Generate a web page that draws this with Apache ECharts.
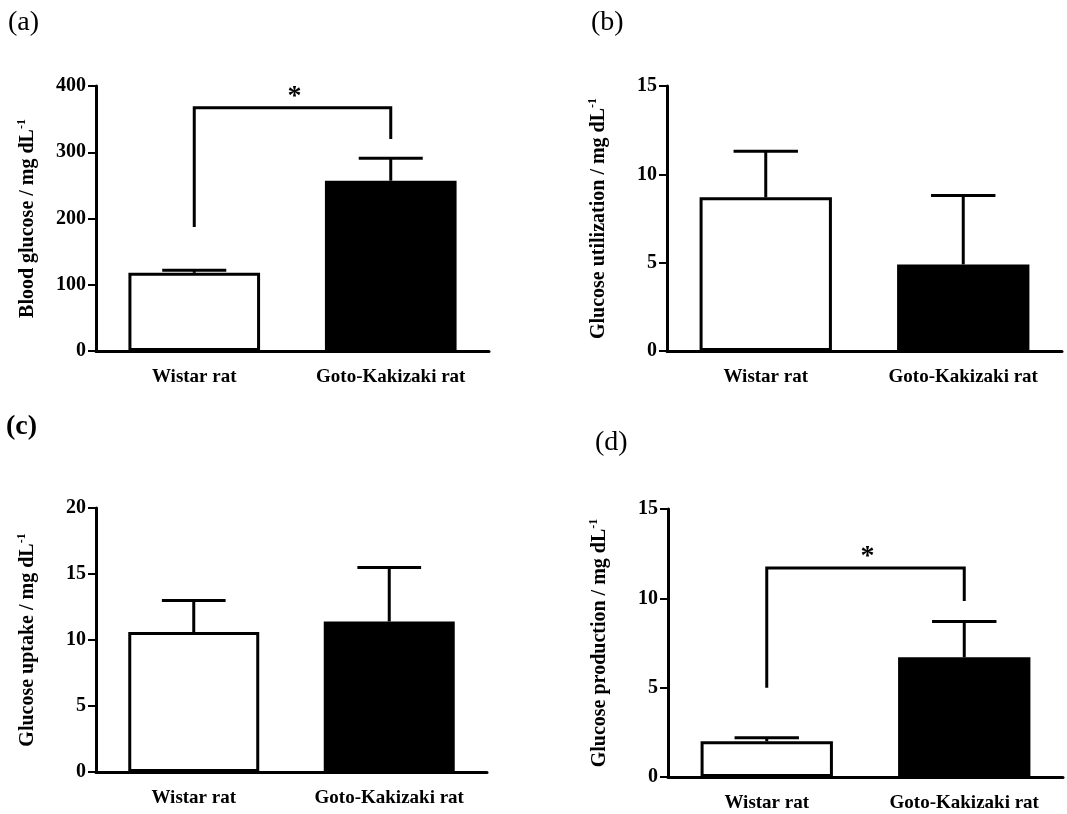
<!DOCTYPE html>
<html>
<head>
<meta charset="utf-8">
<script src="https://cdn.jsdelivr.net/npm/echarts@6/dist/echarts.min.js"></script>
<style>
html,body{margin:0;padding:0;background:#fff;}
#chart{width:1067px;height:814px;}
</style>
</head>
<body>
<div id="chart"></div>
<script>
// ---- data ----
const categories = ['Wistar rat', 'Goto-Kakizaki rat'];

const bloodGlucose = [118, 257];
const bloodGlucoseSem = [4, 34];
const bloodGlucoseTicks = [0, 100, 200, 300, 400];

const glucoseUtilization = [8.7, 4.9];
const glucoseUtilizationSem = [2.6, 3.9];
const utilizationTicks = [0, 5, 10, 15];

const glucoseUptake = [10.6, 11.4];
const glucoseUptakeSem = [2.4, 4.1];
const uptakeTicks = [0, 5, 10, 15, 20];

const glucoseProduction = [2.0, 6.7];
const glucoseProductionSem = [0.2, 2.0];
const productionTicks = [0, 5, 10, 15];

// significance brackets: [leftCategory, rightCategory, leftBottom, top, rightBottom]
const bracketA = [0, 1, 187, 367, 320];
const bracketD = [0, 1, 5.0, 11.7, 9.85];

const yTitles = [
  'Blood glucose / mg dL{sup|-1}',
  'Glucose utilization / mg dL{sup|-1}',
  'Glucose uptake / mg dL{sup|-1}',
  'Glucose production / mg dL{sup|-1}'
];
const panelLabels = ['(a)', '(b)', '(c)', '(d)'];

// ---- chart ----
const FONT = '"Liberation Serif", "Times New Roman", serif';
const chart = echarts.init(document.getElementById('chart'), null, {renderer: 'canvas'});

const grids = [
  {left: 96, top: 86, width: 393, height: 265},
  {left: 667, top: 86, width: 395, height: 265},
  {left: 96, top: 508, width: 391, height: 264},
  {left: 668, top: 509, width: 395, height: 268}
];
const panels = [
  {vals: bloodGlucose, sem: bloodGlucoseSem, ticks: bloodGlucoseTicks, bracket: bracketA},
  {vals: glucoseUtilization, sem: glucoseUtilizationSem, ticks: utilizationTicks, bracket: null},
  {vals: glucoseUptake, sem: glucoseUptakeSem, ticks: uptakeTicks, bracket: null},
  {vals: glucoseProduction, sem: glucoseProductionSem, ticks: productionTicks, bracket: bracketD}
];

const xAxes = [], yAxes = [], series = [];
panels.forEach((p, i) => {
  xAxes.push({
    type: 'category', gridIndex: i, data: categories,
    axisLine: {lineStyle: {color: '#000', width: 3}},
    axisTick: {show: false},
    axisLabel: {color: '#000', fontFamily: FONT, fontWeight: 'bold', fontSize: 19, margin: 17}
  });
  const t = p.ticks;
  yAxes.push({
    type: 'value', gridIndex: i,
    min: t[0], max: t[t.length - 1], interval: t[1] - t[0],
    name: yTitles[i], nameLocation: 'middle', nameGap: 56, nameRotate: 90,
    nameTextStyle: {
      color: '#000', fontFamily: FONT, fontWeight: 'bold', fontSize: 20, lineHeight: 24,
      rich: {sup: {fontFamily: FONT, fontWeight: 'bold', fontSize: 12, color: '#000', verticalAlign: 'top', lineHeight: 24}}
    },
    axisLine: {show: true, lineStyle: {color: '#000', width: 3}},
    axisTick: {show: true, length: 8, lineStyle: {color: '#000', width: 2}},
    axisLabel: {color: '#000', fontFamily: FONT, fontWeight: 'bold', fontSize: 20, margin: 10},
    splitLine: {show: false}
  });
  series.push({
    type: 'bar', xAxisIndex: i, yAxisIndex: i, barWidth: '67%',
    data: p.vals.map((v, k) => ({
      value: v,
      itemStyle: k === 0
        ? {color: '#fff', borderColor: '#000', borderWidth: 3}
        : {color: '#000', borderColor: '#000', borderWidth: 3}
    })),
    z: 2
  });
  series.push({
    type: 'custom', xAxisIndex: i, yAxisIndex: i, z: 3,
    data: p.vals.map((v, k) => [k, v, p.sem[k]]),
    renderItem: function (params, api) {
      const x = api.value(0), m = api.value(1), s = api.value(2);
      const base = api.coord([x, m]);
      const top = api.coord([x, m + s]);
      const half = api.size([1, 0])[0] * 0.163;
      return {
        type: 'group',
        children: [
          {type: 'line', shape: {x1: base[0], y1: base[1], x2: top[0], y2: top[1]},
           style: {stroke: '#000', lineWidth: 3}},
          {type: 'line', shape: {x1: top[0] - half, y1: top[1], x2: top[0] + half, y2: top[1]},
           style: {stroke: '#000', lineWidth: 3}}
        ]
      };
    }
  });
  if (p.bracket) {
    series.push({
      type: 'custom', xAxisIndex: i, yAxisIndex: i, z: 3,
      data: [p.bracket],
      renderItem: function (params, api) {
        const a = api.coord([api.value(0), api.value(2)]);
        const b = api.coord([api.value(0), api.value(3)]);
        const c = api.coord([api.value(1), api.value(3)]);
        const d = api.coord([api.value(1), api.value(4)]);
        return {
          type: 'group',
          children: [
            {type: 'polyline', shape: {points: [a, b, c, d]},
             style: {stroke: '#000', lineWidth: 3, fill: null}},
            {type: 'text', x: (b[0] + c[0]) / 2 + 2, y: b[1] + 3,
             style: {text: '*', fill: '#000', font: 'bold 28px ' + FONT, textAlign: 'center', textVerticalAlign: 'bottom'}}
          ]
        };
      }
    });
  }
});

const labelPos = [[8, 9], [591, 9], [6, 413], [595, 429]];
const graphics = panelLabels.map((t, i) => ({
  type: 'text', left: labelPos[i][0], top: labelPos[i][1],
  style: {text: t, fill: '#000', font: (i === 2 ? 'bold ' : '') + '28px ' + FONT}
}));

chart.setOption({
  animation: false,
  backgroundColor: '#fff',
  grid: grids,
  xAxis: xAxes,
  yAxis: yAxes,
  series: series,
  graphic: graphics
});
</script>
</body>
</html>
